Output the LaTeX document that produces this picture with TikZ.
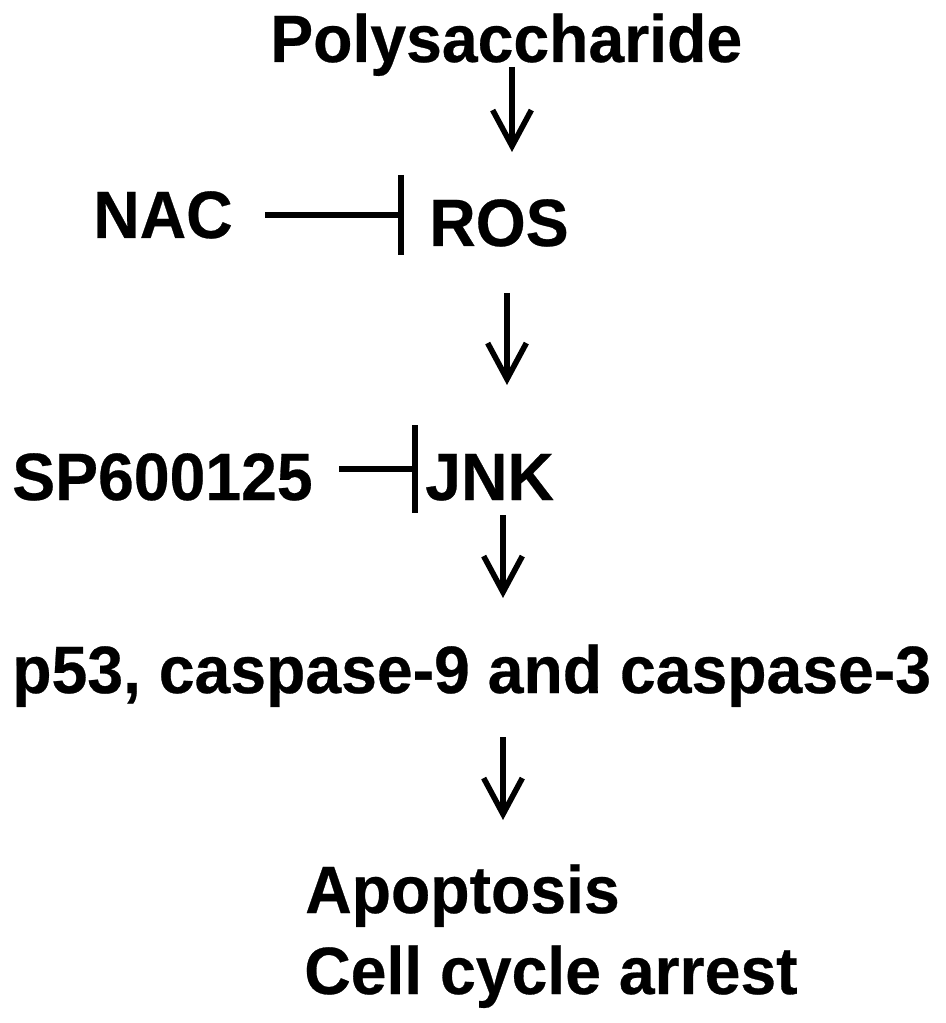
\documentclass[tikz,border=0pt]{standalone}
\usepackage{fontspec}
\setmainfont{Liberation Sans}[FakeStretch=0.96, BoldFeatures={FakeBold=0.4}]
\usetikzlibrary{arrows.meta}
\begin{document}
\begin{tikzpicture}[x=0.75pt,y=-0.75pt,
  lbl/.style={inner sep=0pt, anchor=base west, font=\fontsize{50.25pt}{60pt}\selectfont\bfseries},
  act/.style={line width=4.2pt, -{Straight Barb[length=27pt, width=29pt, line width=4.2pt]}},
  inh/.style={line width=4.2pt, -{Bar[width=60pt, line width=4.2pt]}}]
\useasboundingbox (0,0) rectangle (945,1023);
% labels
\node[lbl] (poly) at (270,62) {Polysaccharide};
\node[lbl] (nac)  at (93,238) {NAC};
\node[lbl] (ros)  at (429,246) {ROS};
\node[lbl] (sp)   at (12,500) {SP600125};
\node[lbl] (jnk)  at (425,500) {JNK};
\node[lbl] (p53)  at (12,693) {p53, caspase-9 and caspase-3};
\node[lbl] (apo)  at (305,913) {Apoptosis};
\node[lbl] (cell) at (304,994) {Cell cycle arrest};
% connector ends
\coordinate (a1s) at (512,67);  \coordinate (a1e) at (512,152);
\coordinate (a2s) at (507,293); \coordinate (a2e) at (507,385);
\coordinate (a3s) at (503,515); \coordinate (a3e) at (503,598);
\coordinate (a4s) at (503,737); \coordinate (a4e) at (503,820);
\coordinate (i1s) at (265,215); \coordinate (i1e) at (404,215);
\coordinate (i2s) at (339,469); \coordinate (i2e) at (418,469);
% connectors
\draw[act] (a1s) -- (a1e);
\draw[act] (a2s) -- (a2e);
\draw[act] (a3s) -- (a3e);
\draw[act] (a4s) -- (a4e);
\draw[inh] (i1s) -- (i1e);
\draw[inh, -{Bar[width=66pt, line width=4.2pt]}] (i2s) -- (i2e);
\end{tikzpicture}
\end{document}
